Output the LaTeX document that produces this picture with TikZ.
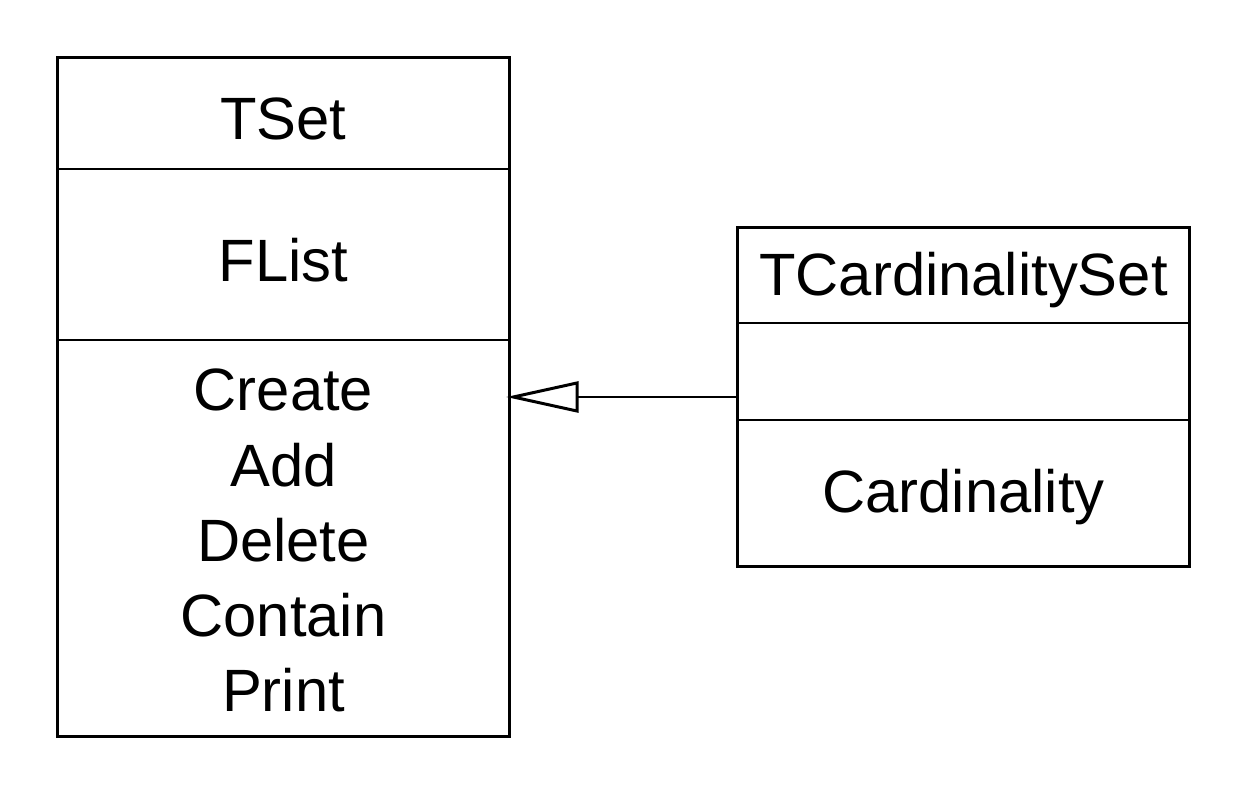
\documentclass[tikz,border=0pt]{standalone}
\usepackage{fontspec}
\setmainfont{Liberation Sans}
\usetikzlibrary{arrows.meta}
\begin{document}
\begin{tikzpicture}[x=0.02cm,y=-0.02cm,
  box/.style={draw,line width=1.7pt,inner sep=0pt,minimum width=9.06cm},
  lbl/.style={inner sep=0pt,font=\fontsize{34}{40}\selectfont},
  div/.style={line width=1.7pt}]
\useasboundingbox (0,0) rectangle (1248,800);
\node[box,minimum height=13.6cm] (tset) at (283.5,397) {};
\node[box,minimum height=6.8cm] (tcs) at (963.5,397) {};
\draw[div] (57,169) -- (510,169);
\draw[div] (57,340) -- (510,340);
\draw[div] (737,323) -- (1190,323);
\draw[div] (737,420) -- (1190,420);
\node[lbl] (n1) at (283.5,119) {TSet};
\node[lbl] (n2) at (283.5,260) {FList};
\node[lbl] (m1) at (283.5,390) {Create};
\node[lbl] (m2) at (283.5,465) {Add};
\node[lbl] (m3) at (283.5,540) {Delete};
\node[lbl] (m4) at (283.5,615) {Contain};
\node[lbl] (m5) at (283.5,690) {Print};
\node[lbl] (c1) at (963.5,280) {TCardinalitySet};
\node[lbl] (c2) at (963.5,497) {Cardinality};
\draw[line width=1.7pt,shorten >=-3pt,-{Triangle[open,length=1.45cm,width=0.62cm]}] (tcs.west) -- (tset.east);
\end{tikzpicture}
\end{document}
